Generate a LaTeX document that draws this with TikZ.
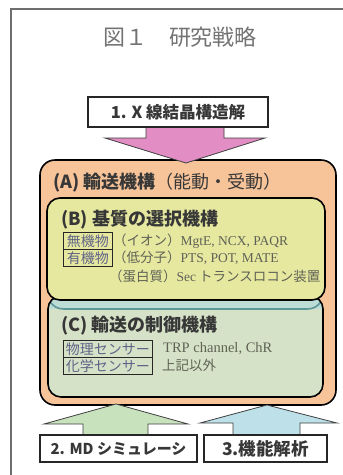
\documentclass[tikz,border=0pt]{standalone}
\usepackage{fontspec}
\newfontfamily\jp{Noto Sans CJK JP}
\newfontfamily\ser{Liberation Serif}
\definecolor{framegray}{RGB}{110,110,110}
\definecolor{pinkarrow}{RGB}{226,142,196}
\definecolor{orangeA}{RGB}{247,196,154}
\definecolor{yellowB}{RGB}{230,232,160}
\definecolor{greenC}{RGB}{214,226,200}
\definecolor{tealband}{RGB}{188,221,214}
\definecolor{tealline}{RGB}{92,150,150}
\definecolor{greenarrow}{RGB}{200,226,190}
\definecolor{bluearrow}{RGB}{190,224,232}
\definecolor{titlegray}{RGB}{115,115,115}
\definecolor{headtxt}{RGB}{55,55,55}
\definecolor{subtxt}{RGB}{95,98,85}
\definecolor{tagtxt}{RGB}{95,100,135}
\tikzset{
  labelbox/.style={draw=black!85, line width=1.1pt, fill=white, inner sep=0pt,
    font=\jp\bfseries\fontsize{16.5}{16.5}\selectfont, text=headtxt},
  arrowline/.style={draw=black!75, line width=0.8pt, line join=miter},
  roundbox/.style={draw=black, line width=1.6pt, rounded corners=13pt},
  tagbox/.style={draw=black!85, line width=0.9pt, inner sep=0pt, minimum height=16.5pt,
    text=tagtxt, font=\jp\fontsize{14}{14}\selectfont, anchor=north west},
  headline/.style={anchor=west, inner sep=0pt, text=headtxt,
    font=\jp\fontsize{18}{18}\selectfont},
  subline/.style={anchor=west, inner sep=0pt, text=subtxt,
    font=\jp\fontsize{13.5}{13.5}\selectfont},
}
\begin{document}
\begin{tikzpicture}[x=1pt,y=-1pt]
\useasboundingbox (0,0) rectangle (343,475);
\fill[white] (0,0) rectangle (343,475);
% outer frame
\draw[framegray, line width=1.3pt] (11,480) -- (11,9) -- (346,9);
\node[text=titlegray, font=\jp\fontsize{22}{22}\selectfont, inner sep=0pt] (title) at (180,37) {図１　研究戦略};

% (A) box
\draw[roundbox, fill=orangeA, rounded corners=15pt] (40,160) rectangle (336,405);

% (C) box
\begin{scope}
  \clip[rounded corners=13pt] (48,296) rectangle (323,397);
  \fill[greenC] (48,296) rectangle (323,397);
  \fill[tealband] (48,296) rectangle (323,309);
  \draw[tealline, line width=1.6pt] (50,302) to[out=-50,in=180] (64,309) -- (307,309) to[out=0,in=-130] (321,302);
\end{scope}
\draw[roundbox] (48,296) rectangle (323,397);

% (B) box
\draw[roundbox, fill=yellowB] (47,198) rectangle (325,300);

% pink arrow and box 1
\draw[arrowline, fill=pinkarrow] (146,120) -- (146,138) -- (105,138) -- (186,163) -- (265,138) -- (224,138) -- (224,120);
\node[labelbox, minimum width=180pt, minimum height=30pt] (box1) at (178,112) {1. X 線結晶構造解};

% green arrow and box 2
\draw[arrowline, fill=greenarrow] (83,440) -- (83,424) -- (44,424) -- (116,404) -- (188,424) -- (148,424) -- (148,440);
\node[labelbox, minimum width=157pt, minimum height=27pt, font=\jp\bfseries\fontsize{15}{15}\selectfont] (box2) at (118.5,448.5) {2. MD シミュレーシ};

% blue arrow and box 3
\draw[arrowline, fill=bluearrow] (233,440) -- (233,423) -- (200,423) -- (267,405) -- (337,423) -- (300,423) -- (300,440);
\node[labelbox, minimum width=123pt, minimum height=27pt, font=\jp\bfseries\fontsize{17.5}{17.5}\selectfont] (box3) at (265.5,448.5) {3.機能解析};

% (A) heading
\node[headline] (headA) at (53,183) {{\bfseries (A) 輸送機構}（能動・受動）};

% (B) contents
\node[headline, font=\jp\bfseries\fontsize{18}{18}\selectfont] (headB) at (61,220) {(B) 基質の選択機構};
\node[tagbox, minimum width=49pt] (inorg) at (63,232) {無機物};
\node[tagbox, minimum width=49pt] (org) at (inorg.south west) {有機物};
\node[subline] (ion) at (inorg.east) {（イオン）{\ser MgtE, NCX, PAQR}};
\node[subline] (small) at (org.east) {（低分子）{\ser PTS, POT, MATE}};
\node[subline] (prot) at (109,276) {（蛋白質）{\ser Sec} トランスロコン装置};

% (C) contents
\node[headline, font=\jp\bfseries\fontsize{18}{18}\selectfont] (headC) at (61,326) {(C) 輸送の制御機構};
\node[tagbox, minimum width=89pt] (phys) at (63,340) {物理センサー};
\node[tagbox, minimum width=89pt] (chem) at (phys.south west) {化学センサー};
\node[subline, font=\ser\fontsize{14.5}{14.5}\selectfont] (trp) at (163,348.5) {TRP channel, ChR};
\node[subline] (other) at (162,365.5) {上記以外};
\end{tikzpicture}
\end{document}
